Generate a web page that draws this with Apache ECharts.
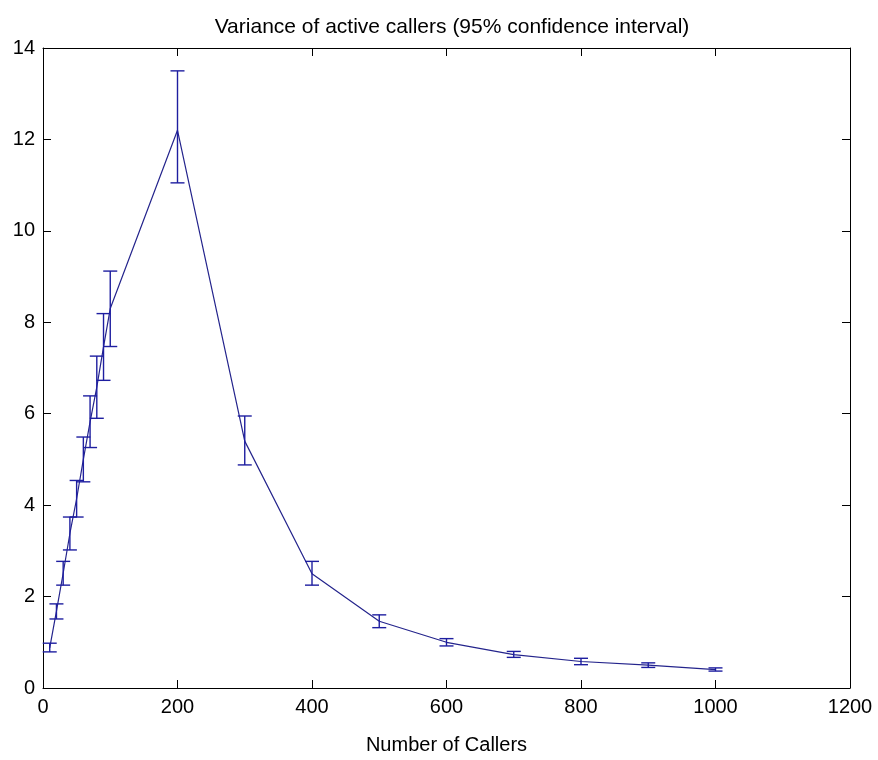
<!DOCTYPE html>
<html>
<head>
<meta charset="utf-8">
<script src="https://cdn.jsdelivr.net/npm/echarts@6/dist/echarts.min.js"></script>
<style>
  html, body { margin: 0; padding: 0; background: #fff; }
  #chart { width: 878px; height: 760px; }
</style>
</head>
<body>
<div id="chart"></div>
<script>
// number of callers (x) and measured variance with 95% CI bounds
var callers = [10, 20, 30, 40, 50, 60, 70, 80, 90, 100, 200, 300, 400, 500, 600, 700, 800, 900, 1000];
var variance = [0.88, 1.68, 2.51, 3.38, 4.14, 5.0, 5.82, 6.58, 7.46, 8.3, 12.2, 5.4, 2.5, 1.46, 1.0, 0.73, 0.58, 0.5, 0.4];
var ciLow = [0.79, 1.51, 2.25, 3.02, 3.74, 4.51, 5.26, 5.9, 6.73, 7.47, 11.05, 4.88, 2.25, 1.32, 0.92, 0.67, 0.51, 0.45, 0.37];
var ciHigh = [0.98, 1.84, 2.77, 3.74, 4.54, 5.49, 6.39, 7.26, 8.19, 9.12, 13.5, 5.95, 2.77, 1.6, 1.08, 0.8, 0.65, 0.55, 0.44];

var xTicks = { min: 0, max: 1200, interval: 200 };
var yTicks = { min: 0, max: 14, interval: 2 };

var LINE = "#24248c";
var BAR = "#1e1ea0";
var FONT = "Liberation Sans";

var chart = echarts.init(document.getElementById("chart"), null, { renderer: "canvas" });

// matlab-like box: all four sides drawn, ticks pointing in
function boxAxis(extra) {
  return Object.assign({
    type: "value",
    axisLine: { show: true, onZero: false, lineStyle: { color: "#000", width: 1 } },
    axisTick: { show: true, inside: true, length: 8, lineStyle: { color: "#000" } },
    splitLine: { show: false },
  }, extra);
}

var option = {
  backgroundColor: "#fff",
  animation: false,
  title: {
    text: "Variance of active callers (95% confidence interval)",
    left: 447,
    textAlign: "center",
    top: 12,
    textStyle: { fontFamily: FONT, fontSize: 21, fontWeight: "normal", color: "#000" },
  },
  grid: { left: 43, right: 28, top: 48, bottom: 64, containLabel: false },
  xAxis: [
    boxAxis({
      min: xTicks.min,
      max: xTicks.max,
      interval: xTicks.interval,
      name: "Number of Callers",
      nameLocation: "middle",
      nameGap: 47,
      nameTextStyle: { fontFamily: FONT, fontSize: 20, color: "#000" },
      axisLabel: {
        fontFamily: FONT, fontSize: 20, color: "#000", margin: 9,
        formatter: function (v) { return String(v); },
      },
    }),
    boxAxis({
      position: "top",
      min: xTicks.min,
      max: xTicks.max,
      interval: xTicks.interval,
      axisLabel: { show: false },
    }),
  ],
  yAxis: [
    boxAxis({
      min: yTicks.min,
      max: yTicks.max,
      interval: yTicks.interval,
      axisLabel: { fontFamily: FONT, fontSize: 20, color: "#000", margin: 8 },
    }),
    boxAxis({
      position: "right",
      min: yTicks.min,
      max: yTicks.max,
      interval: yTicks.interval,
      axisLabel: { show: false },
    }),
  ],
  series: [
    {
      name: "variance",
      type: "line",
      showSymbol: false,
      symbol: "none",
      lineStyle: { color: LINE, width: 1.2 },
      data: callers.map(function (c, i) { return [c, variance[i]]; }),
      z: 3,
    },
    {
      name: "ci",
      type: "custom",
      renderItem: function (params, api) {
        var x = api.value(0);
        var top = api.coord([x, api.value(2)]);
        var bot = api.coord([x, api.value(1)]);
        var w = 7;
        var st = { stroke: BAR, lineWidth: 1.4 };
        return {
          type: "group",
          children: [
            { type: "line", shape: { x1: top[0], y1: top[1], x2: bot[0], y2: bot[1] }, style: st },
            { type: "line", shape: { x1: top[0] - w, y1: top[1], x2: top[0] + w, y2: top[1] }, style: st },
            { type: "line", shape: { x1: bot[0] - w, y1: bot[1], x2: bot[0] + w, y2: bot[1] }, style: st },
          ],
        };
      },
      data: callers.map(function (c, i) { return [c, ciLow[i], ciHigh[i]]; }),
      z: 4,
    },
  ],
};

chart.setOption(option);
</script>
</body>
</html>
